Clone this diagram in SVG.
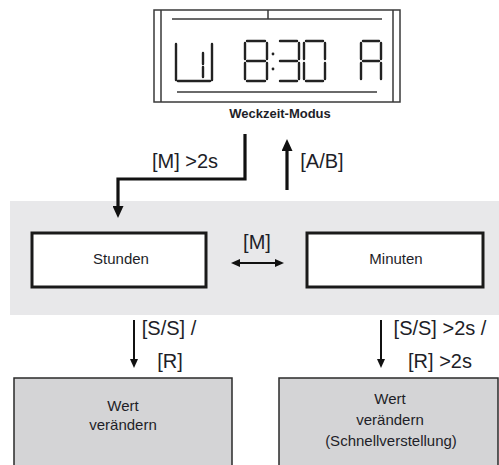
<svg xmlns="http://www.w3.org/2000/svg" width="499" height="465" viewBox="0 0 499 465">
<defs>
<style>
.lcd{fill:none;stroke:#3a3a3a;stroke-width:1.5}
.seg{fill:none;stroke:#222;stroke-width:2.4;stroke-linecap:round}
.box{fill:#fff;stroke:#1a1a1a;stroke-width:3}
.gbox{fill:#d4d4d6;stroke:#2a2a2a;stroke-width:1.5}
.t{font-family:"Liberation Sans",Arial,sans-serif;fill:#1e1e28;text-anchor:middle}
.node{font-size:15px}
.lbl{font-size:20px}
.thick{fill:none;stroke:#111;stroke-width:3.2}
.thin{fill:none;stroke:#111;stroke-width:2}
</style>
<marker id="ah" viewBox="0 0 12 11" refX="2" refY="5.5" markerWidth="12" markerHeight="11" markerUnits="userSpaceOnUse" orient="auto"><path d="M0,0 L12,5.5 L0,11 z" fill="#111"/></marker>
<marker id="at" viewBox="0 0 9 8" refX="2" refY="4" markerWidth="9" markerHeight="8" markerUnits="userSpaceOnUse" orient="auto-start-reverse"><path d="M0,0 L9,4 L0,8 z" fill="#111"/></marker>
</defs>
<rect width="499" height="465" fill="#fff"/>
<rect x="10" y="201" width="489" height="114" fill="#e8e8ea"/>

<g id="display">
<rect class="lcd" x="154" y="10" width="246" height="92"/>
<path class="lcd" d="M161,10 V102 M393,10 V102 M172,19 H382 M177,92 H377 M268,10 V19"/>
<path class="seg" d="M176,44 V80 M178,81 H210 M212,44 V80 M203,53 V64 M203,67 V77"/>
<path class="seg" d="M247,41 H265 M245,43 V59 M267,43 V59 M247,61 H265 M245,63 V79 M267,63 V79 M247,81 H265"/>
<circle cx="273" cy="54" r="1.4" fill="#222"/><circle cx="273" cy="69" r="1.4" fill="#222"/>
<path class="seg" d="M280,41 H297 M299,43 V59 M280,61 H297 M299,63 V79 M280,81 H297"/>
<path class="seg" d="M306,41 H323 M304,43 V59 M325,43 V59 M304,63 V79 M325,63 V79 M306,81 H323"/>
<path class="seg" d="M363,41 H379 M361,43 V59 M381,43 V59 M363,61 H379 M361,63 V79 M381,63 V79"/>
<text class="t" x="280" y="118" font-size="13" font-weight="bold">Weckzeit-Modus</text>
</g>

<g id="stunden">
<rect class="box" x="32" y="233" width="174" height="54"/>
<text class="t node" x="121" y="264">Stunden</text>
</g>
<g id="minuten">
<rect class="box" x="307" y="233" width="176" height="54"/>
<text class="t node" x="396" y="264">Minuten</text>
</g>
<g id="wert1">
<rect class="gbox" x="14" y="378" width="218" height="100"/>
<text class="t node" x="123" y="411">Wert</text>
<text class="t node" x="123" y="430">verändern</text>
</g>
<g id="wert2">
<rect class="gbox" x="279" y="378" width="219" height="100"/>
<text class="t node" x="390" y="404">Wert</text>
<text class="t node" x="390" y="425">verändern</text>
<text class="t node" x="391" y="446">(Schnellverstellung)</text>
</g>

<g id="connectors">
<path class="thick" d="M245,134 V179 H118 V208" marker-end="url(#ah)"/>
<path class="thick" d="M287,190 V149" marker-end="url(#ah)"/>
<path class="thin" d="M238,263 H277" marker-start="url(#at)" marker-end="url(#at)"/>
<path class="thin" d="M134,320 V361" marker-end="url(#at)"/>
<path class="thin" d="M381,320 V361" marker-end="url(#at)"/>
<text class="t lbl" x="185" y="168">[M] &gt;2s</text>
<text class="t lbl" x="322" y="168">[A/B]</text>
<text class="t lbl" x="257" y="249">[M]</text>
<text class="t lbl" x="169" y="335">[S/S] /</text>
<text class="t lbl" x="170" y="368">[R]</text>
<text class="t lbl" x="440" y="335">[S/S] &gt;2s /</text>
<text class="t lbl" x="440" y="368">[R] &gt;2s</text>
</g>
</svg>
